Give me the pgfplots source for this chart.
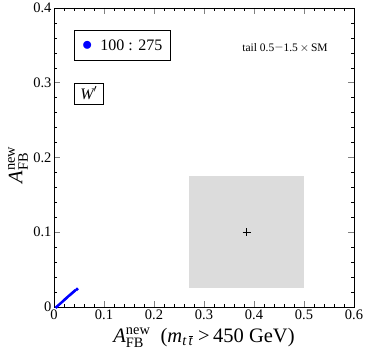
\documentclass[border=0pt]{standalone}
\usepackage{amsmath}
\usepackage{fontspec}
\setmainfont{Liberation Serif}
\usepackage{pgfplots}
\pgfplotsset{compat=1.18}
\definecolor{boxgray}{RGB}{220,220,220}
\begin{document}
\begin{tikzpicture}
\begin{axis}[
  scale only axis,
  width=300bp, height=299bp,
  xmin=0, xmax=0.6, ymin=0, ymax=0.4,
  xtick={0,0.1,...,0.6}, ytick={0,0.1,...,0.4},
  xticklabels={0,0.1,0.2,0.3,0.4,0.5,0.6},
  yticklabels={0,0.1,0.2,0.3,0.4},
  minor x tick num=4, minor y tick num=4,
  tick align=inside,
  major tick length=6bp, minor tick length=3.5bp,
  every major tick/.style={gray, thick},
  every minor tick/.style={black, thin},
  ticklabel style={font=\fontsize{14.5bp}{16bp}\selectfont},
  /pgf/number format/assume math mode=true,
  xticklabel style={yshift=1bp},
  yticklabel style={xshift=1bp},
  axis line style={black, thin},
  xlabel={\textit{A}$^{\textrm{new}}_{\textrm{FB}}$\ \ (\textit{m}$_{\textit{t}\,\overline{\textit{t}}}$\ >\,450 GeV)},
  ylabel={\textit{A}$^{\textrm{new}}_{\textrm{FB}}$},
  label style={font=\fontsize{20.5bp}{22bp}\selectfont},
  xlabel style={at={(axis cs:0.3,-0.041)}, anchor=center},
  ylabel style={at={(axis cs:-0.072,0.19)}, anchor=center},
  clip=true,
]
\coordinate (bl) at (axis cs:-0.108,-0.0642);
\coordinate (tr) at (axis cs:0.622,0.4107);
\addplot[fill=boxgray, draw=none] coordinates {(0.27,0.025) (0.5,0.025) (0.5,0.175) (0.27,0.175)} -- cycle;
\addplot[only marks, mark=+, mark size=4bp, black, thin] coordinates {(0.385,0.1)};
\addplot[blue, line width=1.6bp, mark=*, mark size=0.7bp] coordinates {
(0.005,0.0) (0.009,0.0025) (0.013,0.0048) (0.017,0.0072) (0.021,0.0096) (0.025,0.012) (0.029,0.0145) (0.033,0.0168) (0.037,0.019) (0.041,0.0213) (0.046,0.0238)};
\node[draw, thin, anchor=west, minimum height=30bp, minimum width=96bp, inner xsep=5bp, font=\fontsize{16bp}{18bp}\selectfont] at (axis cs:0.04,0.350) {\textcolor{blue}{\fontsize{22bp}{22bp}\selectfont\raisebox{-0.5bp}{$\bullet$}}\hspace{8bp}100 : 275};
\node[anchor=center, inner sep=0pt, font=\fontsize{11.5bp}{13bp}\selectfont] at (axis cs:0.462,0.346) {tail 0.5\raisebox{0.2ex}{$-$}1.5\,$\times$\,SM};
\node[draw, thin, anchor=west, minimum height=21bp, minimum width=29bp, inner sep=3bp, font=\fontsize{16bp}{18bp}\selectfont\itshape] at (axis cs:0.04,0.286) {W$'$};
\end{axis}
\pgfresetboundingbox
\path[use as bounding box] (bl) rectangle (tr);
\end{tikzpicture}
\end{document}
